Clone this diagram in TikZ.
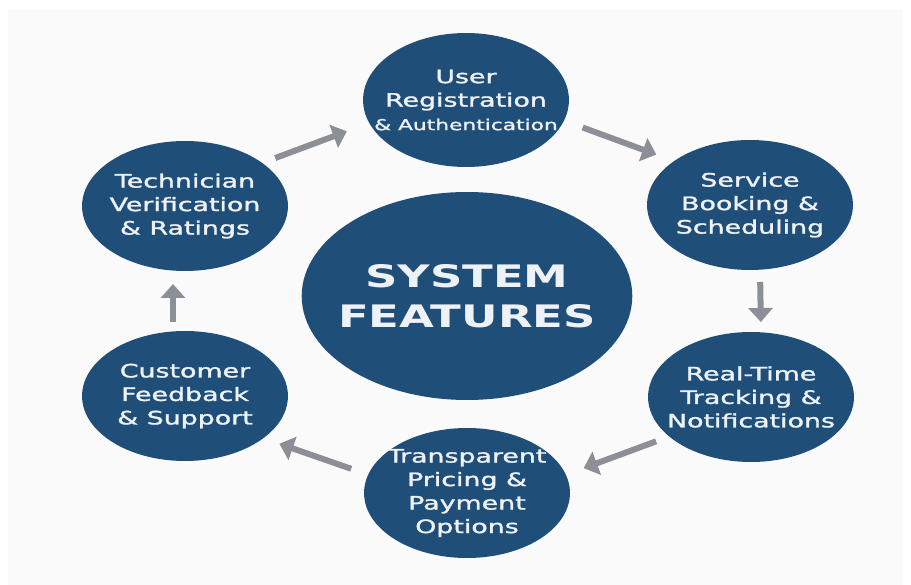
\documentclass[tikz,border=0pt]{standalone}
\usepackage{fontspec}
\setmainfont{DejaVu Sans}
\newfontfamily\featfont{DejaVu Sans}[FakeBold=1.3]
\usepackage{xcolor}
\usepackage{tikz}
\usetikzlibrary{shapes.geometric,arrows.meta}
\definecolor{featblue}{HTML}{1F4E79}
\definecolor{feattext}{HTML}{EEF2F6}
\definecolor{arrowgray}{HTML}{8C9096}
\definecolor{panelbg}{HTML}{FAFAFA}

\begin{document}
\begin{tikzpicture}[x=1pt, y=-1pt,
        feature/.style={ellipse, fill=featblue, text=feattext, inner sep=-25pt, outer sep=0pt,
            minimum width=142pt, minimum height=130pt, xscale=1.45, align=center,
            font=\featfont\fontsize{18.5}{23.5}\selectfont},
        hub/.style={feature, minimum width=228pt, minimum height=208pt,
            font=\bfseries\fontsize{31}{40}\selectfont},
        flow/.style={draw=arrowgray, line width=6pt, -{Triangle[length=14pt, width=24pt]}}]
                \fill[white] (0,0) rectangle (911,585);
                \fill[panelbg] (8,10) rectangle (903,585);

                \node[hub] (features) at (467,296) {SYSTEM\\FEATURES};

                \node[feature, minimum height=134pt] (user) at (466,100) {User\\Registration\\{\fontsize{15}{18}\selectfont\& Authentication}};
                \node[feature] (booking) at (750,205) {Service\\Booking \&\\Scheduling};
                \node[feature] (tracking) at (751,397) {Real-Time\\Tracking \&\\Notifications};
                \node[feature] (pricing) at (467,493) {Transparent\\Pricing \&\\Payment\\Options};
                \node[feature] (feedback) at (185,396) {Customer\\Feedback\\\& Support};
                \node[feature] (verify) at (185,206) {Technician\\Verification\\\& Ratings};

                \draw[flow, shorten <=14pt, shorten >=24pt] (verify.39) -- (user.199);
                \draw[flow, shorten <=20pt, shorten >=19pt] (user.-17) -- (booking.140);
                \draw[flow, shorten <=12pt, shorten >=10pt] ([xshift=10pt]booking.south) -- ([xshift=10pt]tracking.north);
                \draw[flow, shorten <=14pt, shorten >=19pt] (tracking.215) -- (pricing.15);
                \draw[flow, shorten <=18pt, shorten >=17pt] (pricing.165) -- (feedback.-38);
                \draw[flow, shorten <=9pt, shorten >=13pt] ([xshift=-12pt]feedback.north) -- ([xshift=-12pt]verify.south);
            \end{tikzpicture}
\end{document}
